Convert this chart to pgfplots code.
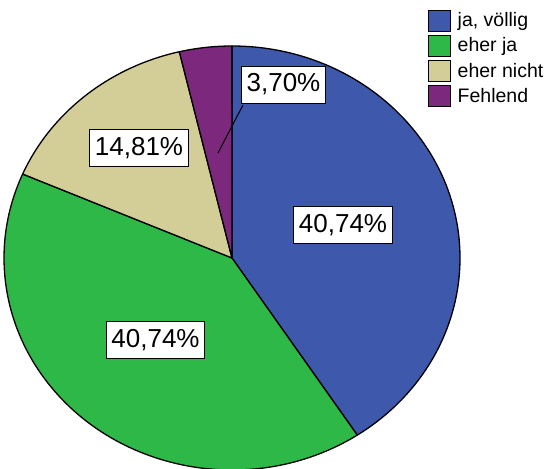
\documentclass[border=0pt]{standalone}
\usepackage{pgfplots}
\pgfplotsset{compat=1.18}
\usepackage{fontspec}
\setmainfont{Liberation Sans}
\definecolor{cBlue}{RGB}{62,88,172}
\definecolor{cGreen}{RGB}{46,184,72}
\definecolor{cTan}{RGB}{211,206,151}
\definecolor{cPurple}{RGB}{124,40,125}
\tikzset{lbl/.style={draw=black, fill=white, line width=1pt,
    font=\fontsize{26}{30}\selectfont, inner xsep=5pt, inner ysep=0pt,
    text height=19pt, text depth=5pt, minimum height=37pt}}
\begin{document}
\begin{tikzpicture}
\path[use as bounding box] (0,0) rectangle (550pt,469pt);
\begin{axis}[
  at={(0,0)}, anchor=south west,
  x=1pt, y=1pt,
  xmin=0, xmax=550, ymin=0, ymax=469,
  axis lines=none, ticks=none,
  clip=true,
]
\pgfplotsextra{
  \foreach \v/\c [remember=\e as \s (initially 90)] in {40.74/cBlue, 40.74/cGreen, 14.81/cTan, 3.70/cPurple} {
    \pgfmathsetmacro\e{\s - 3.6*\v}
    \pgfmathsetmacro\xa{232+228*cos(\s)}
    \pgfmathsetmacro\ya{211+212*sin(\s)}
    \filldraw[fill=\c, draw=black, line width=1.3pt, line join=round]
      (axis cs:232,211) -- (axis cs:\xa,\ya)
      arc[start angle=\s, end angle=\e, x radius=228pt, y radius=212pt] -- cycle;
  }
}
\draw[black, line width=1pt] (axis cs:218,316) -- (axis cs:243,364);
\node[lbl] at (axis cs:283.5,384) {3,70\%};
\node[lbl] at (axis cs:139,320.5) {14,81\%};
\node[lbl] at (axis cs:343,243.5) {40,74\%};
\node[lbl] at (axis cs:155.5,128.5) {40,74\%};
% legend
\pgfplotsextra{
\foreach \yy/\c/\t in {448/cBlue/{ja, völlig}, 423/cGreen/{eher ja}, 398/cTan/{eher nicht}, 373/cPurple/{Fehlend}} {
  \filldraw[fill=\c, draw=black, line width=1.2pt] (axis cs:428.5,\yy-10.5) rectangle (axis cs:450.5,\yy+10.5);
  \node[anchor=west, inner sep=0pt, font=\fontsize{19.5}{22}\selectfont] at (axis cs:457.5,\yy) {\t};
}
}
\end{axis}
\end{tikzpicture}
\end{document}
